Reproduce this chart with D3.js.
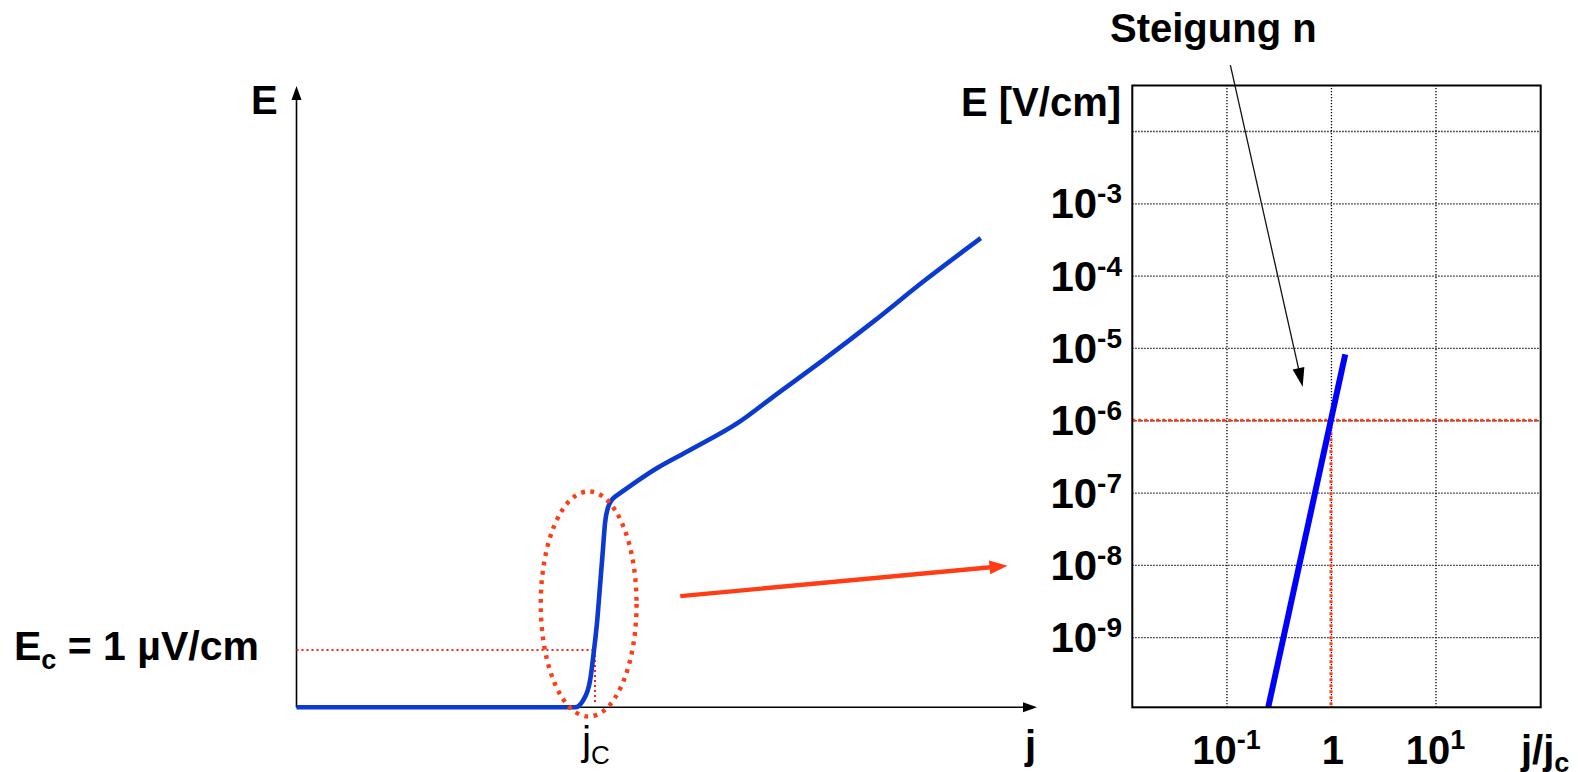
<!DOCTYPE html>
<html><head><meta charset="utf-8">
<script src="https://cdn.jsdelivr.net/npm/d3@7"></script>
<style>
body{margin:0;background:#fff;}
svg{display:block;font-family:"Liberation Sans",Arial,sans-serif;}
</style>
</head><body>
<svg id="c" width="1578" height="772"></svg>
<script>
// ---------- Left chart: linear E(j) sketch (j in units of jc, E in µV/cm) ----------
// transition branch (flat, then steep rise up to the kink)
const transJ = [0, 0.936, 0.964, 0.987, 1.0, 1.011, 1.020, 1.029, 1.037, 1.048, 1.071];
const transE = [0, 0, 0.127, 0.476, 1.0, 1.524, 2.105, 2.688, 3.211, 3.501, 3.675];
// flux-flow branch (from the kink upwards)
const flowJ = [1.071, 1.211, 1.323, 1.491, 1.603, 1.771, 1.939, 2.107, 2.300];
const flowE = [3.675, 4.171, 4.490, 4.988, 5.421, 6.061, 6.729, 7.428, 8.185];
const leftJDomain = [0, 2.489];
const leftEDomain = [0, 10.84];
const critPoint = [1, 1];                 // (jc, Ec)
const ellipseCenter = [0.982, 1.803];
const ellipseRadii = [0.161, 1.963];
const zoomArrowFrom = [1.29, 1.94];      // red arrow, left-chart coordinates
const zoomArrowTo = [2.39, 2.47];

// ---------- Right chart: log-log E(j/jc) ----------
const rightJDomain = [Math.pow(10, -1.901), Math.pow(10, 2.007)];
const rightEDomain = [Math.pow(10, -9.97), Math.pow(10, -1.371)];
const powerJ = [0.251, 1.37];
const powerE = [1.07e-10, 8.15e-6];
const xTickValues = [0.1, 1, 10];
const xTickExps = ["-1", "", "1"];
const yGridValues = [1e-2, 1e-3, 1e-4, 1e-5, 1e-6, 1e-7, 1e-8, 1e-9];
const yTickValues = [1e-3, 1e-4, 1e-5, 1e-6, 1e-7, 1e-8, 1e-9];
const yTickExps = ["-3", "-4", "-5", "-6", "-7", "-8", "-9"];
const refJ = 1, refE = 1e-6;
const slopeArrowFrom = [0.109, 0.0815];   // right-chart coordinates
const slopeArrowTo = [0.536, 2.9e-6];

const svg = d3.select("#c");
const BLUE_L = "#0a3ad2", BLUE_R = "#0000ff", RED = "#ff3c14";

function arrowHead(g, x1, y1, x2, y2, len, wid, color) {
  const a = Math.atan2(y2 - y1, x2 - x1);
  const bx = x2 - len * Math.cos(a), by = y2 - len * Math.sin(a);
  const px = -Math.sin(a) * wid / 2, py = Math.cos(a) * wid / 2;
  g.append("polygon")
    .attr("points", [[x2, y2], [bx + px, by + py], [bx - px, by - py]].map(p => p.join(",")).join(" "))
    .attr("fill", color);
}

// ===== LEFT =====
const xL = d3.scaleLinear().domain(leftJDomain).range([296.5, 1037]);
const yL = d3.scaleLinear().domain(leftEDomain).range([707.3, 86]);
const gL = svg.append("g");

// axes
gL.append("line").attr("x1", xL(0)).attr("y1", yL(0)).attr("x2", xL(leftJDomain[1]) - 10).attr("y2", yL(0))
  .attr("stroke", "#000").attr("stroke-width", 1.6);
arrowHead(gL, xL(0), yL(0), xL(leftJDomain[1]), yL(0), 14, 10, "#000");
gL.append("line").attr("x1", xL(0)).attr("y1", yL(0)).attr("x2", xL(0)).attr("y2", yL(leftEDomain[1]) + 10)
  .attr("stroke", "#000").attr("stroke-width", 1.6);
arrowHead(gL, xL(0), yL(0), xL(0), yL(leftEDomain[1]), 14, 10, "#000");

// Ec / jc dotted guides
gL.append("line").attr("x1", xL(0)).attr("x2", xL(critPoint[0]) + 2).attr("y1", yL(critPoint[1])).attr("y2", yL(critPoint[1]))
  .attr("stroke", "#ff1e1e").attr("stroke-width", 2).attr("stroke-dasharray", "2 3");
gL.append("line").attr("x1", xL(critPoint[0]) + 1).attr("x2", xL(critPoint[0]) + 1).attr("y1", yL(critPoint[1])).attr("y2", yL(0) - 5)
  .attr("stroke", "#ff1e1e").attr("stroke-width", 2).attr("stroke-dasharray", "2 3");

// curve: two branches meeting in a sharp kink
const lineL = d3.line().x(d => xL(d[0])).y(d => yL(d[1])).curve(d3.curveMonotoneX);
const curvePts = transJ.map((j, i) => [j, transE[i]]);
const flowPts = flowJ.map((j, i) => [j, flowE[i]]);
gL.append("path")
  .attr("d", lineL(curvePts) + lineL(flowPts).replace(/^M/, "L"))
  .attr("fill", "none").attr("stroke", BLUE_L).attr("stroke-width", 4.6).attr("stroke-linejoin", "round");

// dotted ellipse
gL.append("ellipse")
  .attr("cx", xL(ellipseCenter[0])).attr("cy", yL(ellipseCenter[1]))
  .attr("rx", xL(ellipseRadii[0]) - xL(0)).attr("ry", yL(0) - yL(ellipseRadii[1]))
  .attr("fill", "none").attr("stroke", RED).attr("stroke-width", 4.4).attr("stroke-dasharray", "3.8 5.6");

// red zoom arrow
{
  const x1 = xL(zoomArrowFrom[0]), y1 = yL(zoomArrowFrom[1]), x2 = xL(zoomArrowTo[0]), y2 = yL(zoomArrowTo[1]);
  const a = Math.atan2(y2 - y1, x2 - x1);
  gL.append("line").attr("x1", x1).attr("y1", y1).attr("x2", x2 - 14 * Math.cos(a)).attr("y2", y2 - 14 * Math.sin(a))
    .attr("stroke", RED).attr("stroke-width", 4.4);
  arrowHead(gL, x1, y1, x2, y2, 18, 14, RED);
}

// left labels
gL.append("text").attr("x", 251).attr("y", 114).attr("font-size", 40).attr("font-weight", "bold").text("E");
gL.append("text").attr("x", 1025).attr("y", 759).attr("font-size", 40).attr("font-weight", "bold").text("j");
{
  const t = gL.append("text").attr("x", 582).attr("y", 755);
  t.append("tspan").attr("font-size", 41).text("j");
  t.append("tspan").attr("font-size", 26).attr("dy", 9).text("C");
}
{
  const t = gL.append("text").attr("x", 14).attr("y", 660).attr("font-weight", "bold");
  t.append("tspan").attr("font-size", 41).text("E");
  t.append("tspan").attr("font-size", 27).attr("dy", 9).text("c");
  t.append("tspan").attr("font-size", 41).attr("dy", -9).text(" = 1 \u00B5V/cm");
}

// ===== RIGHT =====
const xR = d3.scaleLog().domain(rightJDomain).range([1132.3, 1540.7]);
const yR = d3.scaleLog().domain(rightEDomain).range([707.3, 85.5]);
const gR = svg.append("g");
const plotH = yR.range()[0] - yR.range()[1];
const plotW = xR.range()[1] - xR.range()[0];

// grid via axes
gR.append("g").attr("transform", `translate(0,${yR.range()[0]})`)
  .call(d3.axisBottom(xR).tickValues(xTickValues).tickSize(-plotH).tickFormat(""))
  .call(g => g.select(".domain").remove())
  .call(g => g.selectAll(".tick line").attr("stroke", "#000").attr("stroke-width", 1.3).attr("stroke-dasharray", "1.3 1.7"));
gR.append("g").attr("transform", `translate(${xR.range()[0]},0)`)
  .call(d3.axisLeft(yR).tickValues(yGridValues).tickSize(-plotW).tickFormat(""))
  .call(g => g.select(".domain").remove())
  .call(g => g.selectAll(".tick line").attr("stroke", "#000").attr("stroke-width", 1.3).attr("stroke-dasharray", "1.3 1.7"));

// red reference lines
gR.append("line").attr("x1", xR.range()[0]).attr("x2", xR.range()[1]).attr("y1", yR(refE)).attr("y2", yR(refE))
  .attr("stroke", RED).attr("stroke-width", 3).attr("stroke-dasharray", "3 3");
gR.append("line").attr("x1", xR(refJ)).attr("x2", xR(refJ)).attr("y1", yR(refE)).attr("y2", yR.range()[0])
  .attr("stroke", RED).attr("stroke-width", 3).attr("stroke-dasharray", "3 3");

// power law line
gR.append("path").datum(powerJ.map((j, i) => [j, powerE[i]]))
  .attr("d", d3.line().x(d => xR(d[0])).y(d => yR(d[1])))
  .attr("fill", "none").attr("stroke", BLUE_R).attr("stroke-width", 6);

// box
gR.append("rect").attr("x", xR.range()[0]).attr("y", yR.range()[1]).attr("width", plotW).attr("height", plotH)
  .attr("fill", "none").attr("stroke", "#000").attr("stroke-width", 2);

// y tick labels
yTickValues.forEach((v, i) => {
  const t = gR.append("text").attr("x", 1122).attr("y", yR(v) + 15).attr("text-anchor", "end")
    .attr("font-weight", "bold");
  t.append("tspan").attr("font-size", 42).text("10");
  t.append("tspan").attr("font-size", 28).attr("dy", -15).text(yTickExps[i]);
});
// x tick labels
xTickValues.forEach((v, i) => {
  const t = gR.append("text").attr("x", xR(v) + (xTickExps[i] === "" ? 2 : 0)).attr("y", 764).attr("text-anchor", "middle")
    .attr("font-weight", "bold");
  if (xTickExps[i] === "") {
    t.append("tspan").attr("font-size", 40).text("1");
  } else {
    t.append("tspan").attr("font-size", 40).text("10");
    t.append("tspan").attr("font-size", 27).attr("dy", -15).text(xTickExps[i]);
  }
});
// axis titles
gR.append("text").attr("x", 961).attr("y", 116).attr("font-size", 40).attr("font-weight", "bold").text("E [V/cm]");
{
  const t = gR.append("text").attr("x", 1521).attr("y", 764).attr("font-weight", "bold");
  t.append("tspan").attr("font-size", 40).text("j/j");
  t.append("tspan").attr("font-size", 27).attr("dy", 8).text("c");
}

// slope annotation
{
  const x1 = xR(slopeArrowFrom[0]), y1 = yR(slopeArrowFrom[1]), x2 = xR(slopeArrowTo[0]), y2 = yR(slopeArrowTo[1]);
  const a = Math.atan2(y2 - y1, x2 - x1);
  gR.append("line").attr("x1", x1).attr("y1", y1).attr("x2", x2 - 12 * Math.cos(a)).attr("y2", y2 - 12 * Math.sin(a))
    .attr("stroke", "#111").attr("stroke-width", 1.3);
  arrowHead(gR, x1, y1, x2, y2, 19, 12, "#000");
}
svg.append("text").attr("x", 1110).attr("y", 42).attr("font-size", 40).attr("font-weight", "bold").text("Steigung n");
</script>
</body></html>
